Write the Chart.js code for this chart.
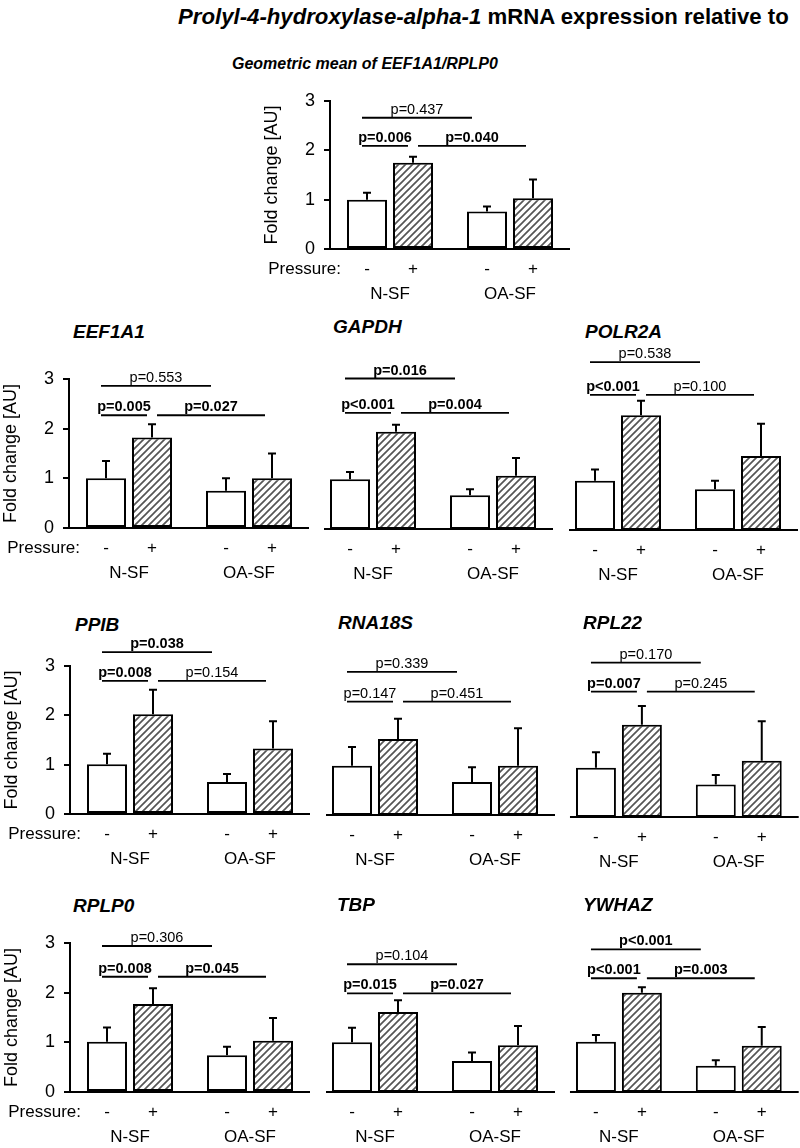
<!DOCTYPE html>
<html>
<head>
<meta charset="utf-8">
<script src="https://cdn.jsdelivr.net/npm/chart.js@4.4.1/dist/chart.umd.min.js"></script>
<style>
  html, body { margin: 0; padding: 0; background: #fff; }
  #fig { position: relative; width: 800px; height: 1148px; overflow: hidden; font-family: "Liberation Sans", Arial, sans-serif; color: #000; }
  .t { position: absolute; white-space: nowrap; font-weight: bold; line-height: 1; }
  .g { font-style: italic; font-size: 19px; }
  canvas { position: absolute; }
</style>
</head>
<body>
<div id="fig">
  <div class="t" style="left:178px;top:6px;font-size:22.2px;"><i>Prolyl-4-hydroxylase-alpha-1</i> mRNA expression relative to</div>
  <div class="t" style="left:232px;top:56px;font-size:16px;font-style:italic;">Geometric mean of EEF1A1/RPLP0</div>
</div>
<script>
// ── data ──────────────────────────────────────────────────────────
var genes = ['Geometric mean of EEF1A1/RPLP0', 'EEF1A1', 'GAPDH', 'POLR2A', 'PPIB', 'RNA18S', 'RPL22', 'RPLP0', 'TBP', 'YWHAZ'];
var groups = ['N-SF', 'OA-SF'];
var pressure = ['-', '+'];
// mean fold change per gene, [N-SF, OA-SF]
var meanMinus = [[1.00, 0.76], [1.00, 0.75], [1.00, 0.68], [0.99, 0.82], [1.01, 0.65], [1.00, 0.67], [1.00, 0.66], [1.01, 0.74], [1.01, 0.63], [1.01, 0.53]];
var meanPlus  = [[1.75, 1.03], [1.82, 1.00], [1.96, 1.07], [2.31, 1.49], [2.02, 1.33], [1.54, 1.00], [1.87, 1.14], [1.77, 1.03], [1.62, 0.95], [2.00, 0.93]];
// upper error (SD)
var sdMinus = [[0.14, 0.10], [0.35, 0.25], [0.15, 0.12], [0.23, 0.17], [0.21, 0.16], [0.38, 0.30], [0.31, 0.19], [0.29, 0.17], [0.29, 0.17], [0.14, 0.11]];
var sdPlus  = [[0.12, 0.38], [0.27, 0.50], [0.14, 0.36], [0.29, 0.65], [0.50, 0.55], [0.41, 0.76], [0.38, 0.80], [0.32, 0.46], [0.24, 0.39], [0.11, 0.38]];
// p values: N-SF- vs OA-SF-, N-SF- vs N-SF+, N-SF+ vs OA-SF+
var pWide  = ['0.437', '0.553', '0.016', '0.538', '0.038', '0.339', '0.170', '0.306', '0.104', '<0.001'];
var pLeft  = ['0.006', '0.005', '<0.001', '<0.001', '0.008', '0.147', '0.007', '0.008', '0.015', '<0.001'];
var pRight = ['0.040', '0.027', '0.004', '0.100', '0.154', '0.451', '0.245', '0.045', '0.027', '0.003'];
var yTicks = [0, 1, 2, 3];

// ── layout (page px): canvas box, plot box, bracket heights, title ─
var layout = [
  { c: [250, 75, 330, 235],  p: [330, 570, 101, 249],  br: [2.66, 2.09], y: true },
  { c: [0, 338, 315, 252],   p: [69, 309, 379, 528],   br: [2.86, 2.27], y: true,  t: [73, 322] },
  { c: [290, 338, 270, 252], p: [313, 553, 380, 529],  br: [3.03, 2.34], y: false, t: [333, 317] },
  { c: [540, 338, 260, 252], p: [558, 798, 381, 530],  br: [3.38, 2.72], y: false, t: [585, 322] },
  { c: [0, 632, 315, 243],   p: [70, 310, 666, 814],   br: [3.28, 2.70], y: true,  t: [75, 615] },
  { c: [290, 632, 270, 243], p: [315, 555, 667, 815],  br: [2.90, 2.30], y: false, t: [338, 613] },
  { c: [540, 632, 260, 243], p: [559, 799, 669, 817],  br: [3.13, 2.54], y: false, t: [583, 613] },
  { c: [0, 912, 315, 236],   p: [70, 310, 943, 1092],  br: [2.94, 2.32], y: true,  t: [73, 896] },
  { c: [290, 912, 270, 236], p: [315, 555, 944, 1092], br: [2.59, 2.00], y: false, t: [337, 895] },
  { c: [540, 912, 260, 236], p: [559, 799, 943, 1092], br: [2.87, 2.29], y: false, t: [583, 895] }
];
var Y_AXIS_W = 69, X_AXIS_H = 56;
var FONT = '"Liberation Sans", Arial, sans-serif';

Chart.defaults.font.family = FONT;
Chart.defaults.color = '#000';

function hatch() {
  var n = 7, t = document.createElement('canvas');
  t.width = t.height = n;
  var c = t.getContext('2d');
  c.fillStyle = '#fff'; c.fillRect(0, 0, n, n);
  c.strokeStyle = '#555'; c.lineWidth = 1.7;
  c.beginPath();
  c.moveTo(0, n); c.lineTo(n, 0);
  c.moveTo(-1, 1); c.lineTo(1, -1);
  c.moveTo(n - 1, n + 1); c.lineTo(n + 1, n - 1);
  c.stroke();
  return c.createPattern(t, 'repeat');
}

function isSig(p) { return p.charAt(0) === '<' || parseFloat(p) < 0.05; }

// error bars, brackets, baseline, pressure labels
var panelPlugin = {
  id: 'panel',
  afterDatasetsDraw: function (chart) {
    var ctx = chart.ctx, a = chart.chartArea, ys = chart.scales.y, i = chart.options.panelIndex;
    var m0 = chart.getDatasetMeta(0).data, m1 = chart.getDatasetMeta(1).data;
    var bars = [m0[0], m1[0], m0[1], m1[1]];
    var sds = [sdMinus[i][0], sdPlus[i][0], sdMinus[i][1], sdPlus[i][1]];
    var means = [meanMinus[i][0], meanPlus[i][0], meanMinus[i][1], meanPlus[i][1]];
    ctx.save();
    ctx.strokeStyle = '#000';
    ctx.lineWidth = 2;
    bars.forEach(function (b, k) {
      var tip = ys.getPixelForValue(means[k] + sds[k]);
      ctx.beginPath();
      ctx.moveTo(b.x, b.y); ctx.lineTo(b.x, tip);
      ctx.moveTo(b.x - 4, tip); ctx.lineTo(b.x + 4, tip);
      ctx.stroke();
    });
    // baseline
    var x0 = layout[i].y ? a.left - 1 : bars[0].x - bars[0].width / 2 - 6;
    ctx.beginPath(); ctx.moveTo(x0, a.bottom); ctx.lineTo(a.right, a.bottom); ctx.stroke();

    // significance brackets
    var c = bars.map(function (b) { return b.x; });
    var lv = layout[i].br;
    var br = [
      [c[0] - 5, c[2] - 15, lv[0], pWide[i]],
      [c[0] - 5, c[1] - 5, lv[1], pLeft[i]],
      [c[1] + 5, c[3] - 7, lv[1], pRight[i]]
    ];
    ctx.lineWidth = 1.8;
    ctx.textAlign = 'center';
    ctx.textBaseline = 'alphabetic';
    br.forEach(function (r) {
      var y = ys.getPixelForValue(r[2]);
      ctx.beginPath(); ctx.moveTo(r[0], y); ctx.lineTo(r[1], y); ctx.stroke();
      ctx.font = (isSig(r[3]) ? 'bold ' : '') + '14.5px ' + FONT;
      ctx.fillStyle = '#000';
      ctx.fillText('p' + (r[3].charAt(0) === '<' ? '' : '=') + r[3], (r[0] + r[1]) / 2, y - 4);
    });

    // pressure row
    ctx.font = '17px ' + FONT;
    ctx.textBaseline = 'middle';
    var py = a.bottom + 20;
    bars.forEach(function (b, k) { ctx.fillText(pressure[k % 2], b.x, py); });
    if (layout[i].y) {
      ctx.textAlign = 'right';
      ctx.fillText('Pressure:', a.left + 11, py);
    }
    ctx.restore();
  }
};

var fig = document.getElementById('fig');
layout.forEach(function (L, i) {
  if (L.t) {
    var d = document.createElement('div');
    d.className = 't g';
    d.style.left = L.t[0] + 'px';
    d.style.top = L.t[1] + 'px';
    d.textContent = genes[i];
    fig.appendChild(d);
  }
  var cv = document.createElement('canvas');
  cv.width = L.c[2]; cv.height = L.c[3];
  cv.style.left = L.c[0] + 'px'; cv.style.top = L.c[1] + 'px';
  cv.style.width = L.c[2] + 'px'; cv.style.height = L.c[3] + 'px';
  fig.appendChild(cv);

  var yw = L.y ? Y_AXIS_W : 0;
  var pad = {
    left: L.p[0] - L.c[0] - yw,
    right: L.c[0] + L.c[2] - L.p[1],
    top: L.p[2] - L.c[1],
    bottom: L.c[1] + L.c[3] - L.p[3] - X_AXIS_H
  };
  var common = { borderColor: '#000', borderWidth: 2, borderSkipped: false, categoryPercentage: 92 / 120, barPercentage: 40 / 46 };

  new Chart(cv, {
    type: 'bar',
    data: {
      labels: groups,
      datasets: [
        Object.assign({ label: 'Pressure ' + pressure[0], data: meanMinus[i], backgroundColor: '#fff' }, common),
        Object.assign({ label: 'Pressure ' + pressure[1], data: meanPlus[i], backgroundColor: hatch() }, common)
      ]
    },
    options: {
      panelIndex: i,
      responsive: false,
      animation: false,
      devicePixelRatio: 1,
      layout: { padding: pad },
      plugins: { legend: { display: false }, tooltip: { enabled: false } },
      scales: {
        x: {
          grid: { display: false, drawTicks: false },
          border: { display: false },
          ticks: { color: '#000', font: { size: 17 }, padding: 35, maxRotation: 0 },
          afterFit: function (s) { s.height = X_AXIS_H; }
        },
        y: {
          display: L.y,
          min: yTicks[0], max: yTicks[yTicks.length - 1],
          afterBuildTicks: function (s) { s.ticks = yTicks.map(function (v) { return { value: v }; }); },
          ticks: { color: '#000', font: { size: 18 }, padding: 9 },
          grid: { drawOnChartArea: false, drawTicks: true, tickLength: 6, color: '#000', lineWidth: 2 },
          border: { display: true, color: '#000', width: 2 },
          title: { display: true, text: 'Fold change [AU]', color: '#000', font: { size: 18 }, padding: { top: 0, bottom: 0 } },
          afterFit: function (s) { s.width = yw; }
        }
      }
    },
    plugins: [panelPlugin]
  });
});
</script>
</body>
</html>
